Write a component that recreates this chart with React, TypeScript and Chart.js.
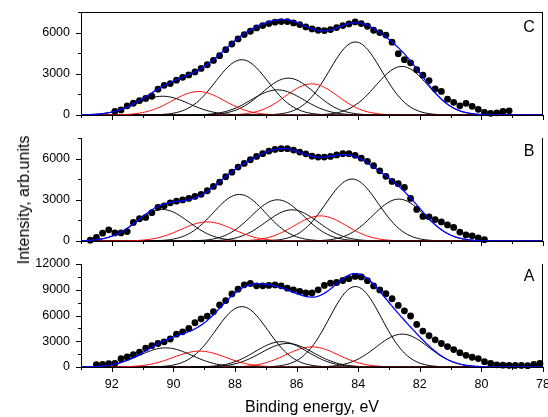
import React, { useEffect, useRef } from 'react';
import { Chart, registerables } from 'chart.js';

Chart.register(...registerables);

// ---------------- Panel C (top) ----------------
const energyC = [91.9, 91.7, 91.5, 91.3, 91.1, 90.9, 90.7, 90.5, 90.3, 90.1, 89.9, 89.7, 89.5, 89.3, 89.1, 88.9, 88.7, 88.5, 88.3, 88.1, 87.9, 87.7, 87.5, 87.3, 87.1, 86.9, 86.7, 86.5, 86.3, 86.1, 85.9, 85.7, 85.5, 85.3, 85.1, 84.9, 84.7, 84.5, 84.3, 84.1, 83.9, 83.7, 83.5, 83.3, 83.1, 82.9, 82.7, 82.5, 82.3, 82.1, 81.9, 81.7, 81.5, 81.3, 81.1, 80.9, 80.7, 80.5, 80.3, 80.1, 79.9, 79.7, 79.5, 79.3, 79.1];
const intensityC = [270, 366, 670, 854, 1049, 1210, 1365, 1878, 2160, 2290, 2535, 2745, 2915, 3135, 3390, 3659, 3976, 4317, 4756, 5171, 5537, 5854, 6098, 6341, 6512, 6659, 6756, 6805, 6805, 6707, 6585, 6415, 6268, 6171, 6146, 6220, 6366, 6512, 6634, 6780, 6659, 6463, 6171, 6000, 5820, 5300, 4463, 4030, 3800, 3300, 2900, 2510, 1900, 1720, 1150, 925, 670, 850, 635, 415, 190, 125, 160, 255, 305];
const peakCenterC = [90.35, 89.19, 87.78, 86.62, 86.27, 85.51, 84.09, 82.58];
const peakHeightC = [1366, 1707, 4024, 1829, 2683, 2268, 5317, 3537];

// ---------------- Panel B (middle) ----------------
const energyB = [92.7, 92.5, 92.3, 92.1, 91.9, 91.7, 91.5, 91.3, 91.1, 90.9, 90.7, 90.5, 90.3, 90.1, 89.9, 89.7, 89.5, 89.3, 89.1, 88.9, 88.7, 88.5, 88.3, 88.1, 87.9, 87.7, 87.5, 87.3, 87.1, 86.9, 86.7, 86.5, 86.3, 86.1, 85.9, 85.7, 85.5, 85.3, 85.1, 84.9, 84.7, 84.5, 84.3, 84.1, 83.9, 83.7, 83.5, 83.3, 83.1, 82.9, 82.7, 82.5, 82.3, 82.1, 81.9, 81.7, 81.5, 81.3, 81.1, 80.9, 80.7, 80.5, 80.3, 80.1, 79.9];
const intensityB = [60, 255, 570, 815, 590, 590, 683, 1350, 1620, 1720, 2060, 2450, 2560, 2780, 2900, 2990, 3100, 3244, 3400, 3660, 3976, 4280, 4680, 5010, 5380, 5650, 5915, 6160, 6355, 6550, 6670, 6720, 6720, 6620, 6475, 6350, 6180, 6110, 6110, 6160, 6270, 6355, 6355, 6240, 6030, 5805, 5488, 5110, 4707, 4341, 4171, 3900, 3100, 2300, 1790, 1760, 1560, 1390, 1171, 990, 650, 440, 380, 230, 100];
const peakCenterB = [90.35, 88.9, 87.86, 86.62, 86.15, 85.23, 84.2, 82.68];
const peakHeightB = [2290, 1390, 3390, 3000, 2268, 1829, 4512, 3049];

// ---------------- Panel A (bottom) ----------------
const energyA = [92.5, 92.3, 92.1, 91.9, 91.7, 91.5, 91.3, 91.1, 90.9, 90.7, 90.5, 90.3, 90.1, 89.9, 89.7, 89.5, 89.3, 89.1, 88.9, 88.7, 88.5, 88.3, 88.1, 87.9, 87.7, 87.5, 87.3, 87.1, 86.9, 86.7, 86.5, 86.3, 86.1, 85.9, 85.7, 85.5, 85.3, 85.1, 84.9, 84.7, 84.5, 84.3, 84.1, 83.9, 83.7, 83.5, 83.3, 83.1, 82.9, 82.7, 82.5, 82.3, 82.1, 81.9, 81.7, 81.5, 81.3, 81.1, 80.9, 80.7, 80.5, 80.3, 80.1, 79.9, 79.7, 79.5, 79.3, 79.1, 78.9, 78.7, 78.5, 78.3, 78.1];
const intensityA = [280, 315, 395, 430, 960, 1172, 1430, 1740, 2210, 2480, 2735, 2930, 3265, 3830, 4100, 4495, 5157, 5610, 5937, 6445, 7226, 7734, 8515, 9062, 9570, 9730, 9458, 9458, 9500, 9560, 9458, 9180, 8990, 8800, 8620, 8620, 8990, 9500, 9765, 9845, 10080, 10290, 10550, 10500, 10060, 9440, 8985, 8535, 7950, 7170, 6550, 5940, 4960, 4180, 3640, 3165, 2735, 2385, 2035, 1665, 1365, 1135, 980, 625, 410, 250, 210, 180, 180, 180, 160, 290, 410];
const peakCenterA = [90.25, 89.15, 87.78, 86.5, 86.3, 85.5, 84.09, 82.57];
const peakHeightA = [2230, 1850, 7031, 2950, 2740, 2344, 9375, 3828];

// component kind: 'k' = black component, 'r' = red component (same order in every panel)
const peakKind = ['k', 'r', 'k', 'k', 'k', 'r', 'k', 'k'];
const peakFwhmEv = 2.0;

// axes
const energyMin = 78;
const energyMax = 93;
const xLabelTicks = [92, 90, 88, 86, 84, 82, 80, 78];
const yLabelTicksCB = [0, 3000, 6000];
const yLabelTicksA = [0, 3000, 6000, 9000, 12000];
const yMaxCB = 7500;
const yMaxA = 12000;
const yStep = 1500;

const FONT = '"Liberation Sans", Arial, Helvetica, sans-serif';

type Panel = {
  energies: number[];
  values: number[];
  centers: number[];
  heights: number[];
  yMax: number;
  yLabels: number[];
  letter: string;
  letterDy: number;
  bottomPanel: boolean;
  topBorder: boolean;
  padTop: number;
  axisHeight: number;
};

const decorPlugin = {
  id: 'decor',
  afterDraw(chart: any, _args: any, opts: any) {
    const { ctx, chartArea } = chart;
    const { left, right, top, bottom } = chartArea;
    const xs = chart.scales.x;
    const ys = chart.scales.y;
    ctx.save();
    ctx.strokeStyle = '#000';
    ctx.lineWidth = 1;
    ctx.beginPath();
    for (let v = 0; v <= ys.max + 0.001; v += yStep) {
      const py = Math.round(ys.getPixelForValue(v)) + 0.5;
      const len = opts.yLabels.includes(v) ? 5 : 3;
      ctx.moveTo(left - len, py);
      ctx.lineTo(left, py);
    }
    for (let e = energyMin; e <= energyMax; e += 1) {
      const px = Math.round(xs.getPixelForValue(e)) + 0.5;
      const len = e % 2 === 0 ? 5 : 3;
      ctx.moveTo(px, bottom);
      ctx.lineTo(px, bottom + len);
    }
    const rx = Math.round(right) - 0.5;
    ctx.moveTo(rx, top);
    ctx.lineTo(rx, bottom);
    if (opts.topBorder) {
      const ty = Math.round(top) + 0.5;
      ctx.moveTo(left, ty);
      ctx.lineTo(right, ty);
    }
    ctx.stroke();
    ctx.fillStyle = '#000';
    ctx.font = `16px ${FONT}`;
    ctx.textAlign = 'center';
    ctx.textBaseline = 'alphabetic';
    ctx.fillText(opts.letter, right - 14, top + opts.letterDy);
    ctx.restore();
  },
};

function buildChart(canvas: HTMLCanvasElement, p: Panel) {
  const sigma = peakFwhmEv / 2.35482;
  const grid: number[] = [];
  for (let i = 0; i <= 300; i++) grid.push(Number((energyMax - i * 0.05).toFixed(2)));
  const comps = p.centers.map((c, k) =>
    grid.map((e) => ({ x: e, y: p.heights[k] * Math.exp(-((e - c) * (e - c)) / (2 * sigma * sigma)) }))
  );
  const envelope = grid.map((e, i) => ({ x: e, y: comps.reduce((s, cmp) => s + cmp[i].y, 0) }));

  const datasets: any[] = [
    {
      data: envelope,
      showLine: true,
      borderColor: '#0000ff',
      borderWidth: 1.3,
      pointRadius: 0,
      fill: false,
    },
    {
      data: p.energies.map((e, i) => ({ x: e, y: p.values[i] })),
      showLine: false,
      pointRadius: 3.4,
      pointBackgroundColor: '#000',
      pointBorderColor: '#000',
      pointBorderWidth: 0,
      clip: false,
    },
    ...comps.map((d, k) => ({
      data: d,
      showLine: true,
      borderColor: peakKind[k] === 'r' ? '#ff0000' : '#000000',
      borderWidth: 1,
      pointRadius: 0,
      fill: false,
    })),
  ];

  return new Chart(canvas, {
    type: 'scatter',
    data: { datasets },
    options: {
      responsive: false,
      animation: false,
      events: [],
      layout: { padding: { top: p.padTop, right: 5, left: 0, bottom: 0 } },
      plugins: {
        legend: { display: false },
        tooltip: { enabled: false },
        decor: { letter: p.letter, letterDy: p.letterDy, topBorder: p.topBorder, yLabels: p.yLabels },
      } as any,
      scales: {
        x: {
          type: 'linear',
          reverse: true,
          min: energyMin,
          max: energyMax,
          grid: { display: false, drawTicks: false },
          border: { display: true, color: '#000', width: 1 },
          ticks: {
            display: p.bottomPanel,
            stepSize: 1,
            autoSkip: false,
            maxRotation: 0,
            padding: 10.5,
            color: '#000',
            font: { family: FONT, size: 12.5 },
            callback: (v: any) => (xLabelTicks.includes(Number(v)) ? String(v) : ''),
          },
          title: {
            display: p.bottomPanel,
            text: 'Binding energy, eV',
            color: '#000',
            font: { family: FONT, size: 16 },
            padding: { top: 0, bottom: 0 },
          },
          afterFit: (s: any) => {
            s.height = p.axisHeight;
            s.paddingLeft = 0;
            s.paddingRight = 0;
          },
        },
        y: {
          type: 'linear',
          min: 0,
          max: p.yMax,
          grid: { display: false, drawTicks: false },
          border: { display: true, color: '#000', width: 1 },
          ticks: {
            stepSize: yStep,
            autoSkip: false,
            padding: 11,
            color: '#000',
            font: { family: FONT, size: 12.5 },
            callback: (v: any) => (p.yLabels.includes(Number(v)) ? String(v) : ''),
          },
          afterFit: (s: any) => {
            s.width = 81;
            s.paddingTop = 0;
            s.paddingBottom = 0;
          },
        },
      },
    } as any,
    plugins: [decorPlugin as any],
  });
}

export default function App() {
  const refC = useRef<HTMLCanvasElement>(null);
  const refB = useRef<HTMLCanvasElement>(null);
  const refA = useRef<HTMLCanvasElement>(null);

  useEffect(() => {
    const charts: Chart[] = [];
    if (refC.current)
      charts.push(
        buildChart(refC.current, {
          energies: energyC, values: intensityC, centers: peakCenterC, heights: peakHeightC,
          yMax: yMaxCB, yLabels: yLabelTicksCB, letter: 'C', letterDy: 20,
          bottomPanel: false, topBorder: true, padTop: 12, axisHeight: 10,
        })
      );
    if (refB.current)
      charts.push(
        buildChart(refB.current, {
          energies: energyB, values: intensityB, centers: peakCenterB, heights: peakHeightB,
          yMax: yMaxCB, yLabels: yLabelTicksCB, letter: 'B', letterDy: 18,
          bottomPanel: false, topBorder: false, padTop: 10, axisHeight: 9,
        })
      );
    if (refA.current)
      charts.push(
        buildChart(refA.current, {
          energies: energyA, values: intensityA, centers: peakCenterA, heights: peakHeightA,
          yMax: yMaxA, yLabels: yLabelTicksA, letter: 'A', letterDy: 17,
          bottomPanel: true, topBorder: false, padTop: 14, axisHeight: 50,
        })
      );
    return () => charts.forEach((c) => c.destroy());
  }, []);

  const canvasStyle = (top: number, h: number): React.CSSProperties => ({
    position: 'absolute', left: 0, top, width: 548, height: h, display: 'block',
  });

  return (
    <div style={{ position: 'absolute', left: 0, top: 0, width: 548, height: 417, background: '#fff', overflow: 'hidden' }}>
      <canvas ref={refC} width={548} height={125} style={canvasStyle(0, 125)} />
      <canvas ref={refB} width={548} height={122} style={canvasStyle(128, 122)} />
      <canvas ref={refA} width={548} height={167} style={canvasStyle(250, 167)} />
      <div
        style={{
          position: 'absolute', left: 24, top: 200, transform: 'translate(-50%, -50%) rotate(-90deg)',
          whiteSpace: 'nowrap', fontFamily: FONT, fontSize: 16, lineHeight: '16px', color: '#000',
        }}
      >
        Intensity, arb.units
      </div>
    </div>
  );
}
